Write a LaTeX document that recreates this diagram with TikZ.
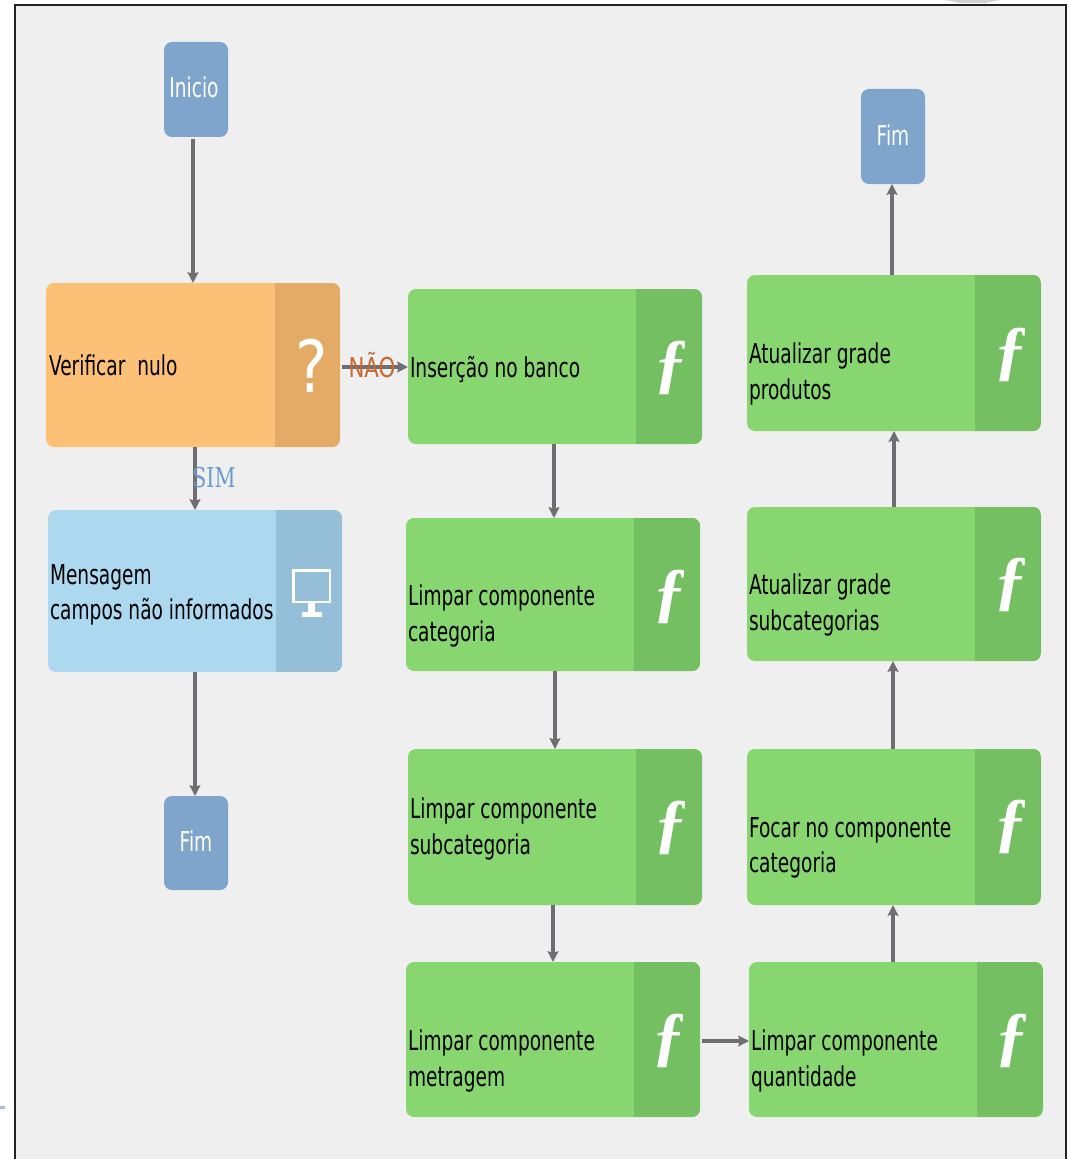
\documentclass[tikz,border=0pt]{standalone}
\usepackage{fontspec}
\setmainfont[FakeStretch=0.68]{DejaVu Sans}
\newfontfamily\midfont[FakeStretch=0.78]{DejaVu Sans}
\newfontfamily\simfont[FakeStretch=0.75]{DejaVu Serif}
\newfontfamily\qfont[FakeStretch=0.85]{DejaVu Sans}
\newfontfamily\symfont{Liberation Serif}
\usetikzlibrary{arrows.meta}
\definecolor{bgc}{HTML}{EFEFEF}
\definecolor{framec}{HTML}{222222}
\definecolor{greenc}{HTML}{88D66F}
\definecolor{greend}{HTML}{74BF62}
\definecolor{orangec}{HTML}{FDC077}
\definecolor{oranged}{HTML}{E3AB66}
\definecolor{bluec}{HTML}{ADD9F0}
\definecolor{blued}{HTML}{95BFD8}
\definecolor{termc}{HTML}{7FA5CC}
\definecolor{linec}{HTML}{6E6E72}
\definecolor{naoc}{HTML}{C8682C}
\definecolor{simc}{HTML}{6A9BD0}
\tikzset{
  x=0.75pt,y=-0.75pt,
  boxbase/.style={rectangle,rounded corners=6,inner sep=0,outer sep=0,anchor=north west},
  term/.style={boxbase,fill=termc},
  lbl/.style={anchor=west,inner sep=0,outer sep=0,font=\fontsize{20.5}{26.5}\selectfont,text=black,align=left},
  termlbl/.style={anchor=center,inner sep=0,font=\fontsize{20.5}{24}\selectfont,text=white},
  sym/.style={anchor=center,inner sep=0,text=white},
  conn/.style={draw=linec,line width=2.4pt,-{Stealth[length=8pt,width=8pt,inset=1pt]}},
}
% name, x1, y1, x2, y2, strip width, fill, strip fill
\newcommand{\flowbox}[8]{%
  \pgfmathsetlengthmacro{\bw}{(#4-#2)*0.75pt}%
  \pgfmathsetlengthmacro{\bh}{(#5-#3)*0.75pt}%
  \pgfmathsetlengthmacro{\sw}{#6*0.75pt}%
  \node[boxbase,fill=#7,minimum width=\bw,minimum height=\bh,
    path picture={\fill[#8,sharp corners] (path picture bounding box.north east) rectangle
      ([xshift=-\sw]path picture bounding box.south east);}] (#1) at (#2,#3) {};}
\newcommand{\termbox}[5]{%
  \pgfmathsetlengthmacro{\bw}{(#4-#2)*0.75pt}%
  \pgfmathsetlengthmacro{\bh}{(#5-#3)*0.75pt}%
  \node[term,minimum width=\bw,minimum height=\bh] (#1) at (#2,#3) {};}
\begin{document}
\begin{tikzpicture}
\useasboundingbox (0,0) rectangle (1067,1159);
\fill[white] (0,0) rectangle (1067,1159);
\fill[bgc] (15,5) rectangle (1066,1159);
\draw[framec,line width=2.2pt] (15,1159) -- (15,5) -- (1066,5) -- (1066,1159);
\fill[black!18] (945,0) -- (1000,0) -- (985,3) -- (960,3) -- cycle;
\fill[termc!70] (0,1105.5) rectangle (5,1108.5);

\termbox{inicio}{164}{42}{228}{137}
\termbox{fimb}{164}{796}{228}{890}
\termbox{fimt}{861}{89}{925}{184}
\flowbox{verif}{46}{283}{340}{447}{65}{orangec}{oranged}
\flowbox{msg}{48}{510}{342}{672}{66}{bluec}{blued}
\flowbox{ins}{408}{289}{702}{444}{66}{greenc}{greend}
\flowbox{lcat}{406}{518}{700}{671}{66}{greenc}{greend}
\flowbox{lsub}{408}{749}{702}{905}{66}{greenc}{greend}
\flowbox{lmet}{406}{962}{700}{1117}{66}{greenc}{greend}
\flowbox{lqtd}{749}{962}{1043}{1117}{66}{greenc}{greend}
\flowbox{foc}{747}{749}{1041}{905}{66}{greenc}{greend}
\flowbox{asub}{747}{507}{1041}{661}{66}{greenc}{greend}
\flowbox{apro}{747}{275}{1041}{431}{66}{greenc}{greend}

% connectors
\coordinate (c1) at (193,139);
\draw[conn] (c1) -- (c1 |- verif.north);
\coordinate (c2) at (195,447);
\draw[conn] (c2) -- (c2 |- msg.north);
\coordinate (c3) at (195,672);
\draw[conn] (c3) -- (c3 |- fimb.north);
\coordinate (c4) at (342,367);
\draw[conn] (c4) -- (c4 -| ins.west);
\coordinate (c5) at (554,444);
\draw[conn] (c5) -- (c5 |- lcat.north);
\coordinate (c6) at (555,671);
\draw[conn] (c6) -- (c6 |- lsub.north);
\coordinate (c7) at (553,905);
\draw[conn] (c7) -- (c7 |- lmet.north);
\coordinate (c8) at (702,1041);
\draw[conn] (c8) -- (c8 -| lqtd.west);
\coordinate (c9) at (893,962);
\draw[conn] (c9) -- (c9 |- foc.south);
\coordinate (c10) at (893,749);
\draw[conn] (c10) -- (c10 |- asub.south);
\coordinate (c11) at (894,507);
\draw[conn] (c11) -- (c11 |- apro.south);
\coordinate (c12) at (892,275);
\draw[conn] (c12) -- (c12 |- fimt.south);

% labels
\node[termlbl] (tinicio) at (194,87) {Inicio};
\node[termlbl] (tfimb) at (196,841) {Fim};
\node[termlbl] (tfimt) at (893,135) {Fim};
\node[lbl] (tverif) at (49,365) {Verificar\ \ nulo};
\node[lbl] (tmsg) at (50,595) {Mensagem\\campos não informados};
\node[lbl] (tins) at (410,370) {Inserção no banco};
\node[lbl] (tlcat) at (408,616) {Limpar componente\\categoria};
\node[lbl] (tlsub) at (410,829) {Limpar componente\\subcategoria};
\node[lbl] (tlmet) at (408,1061) {Limpar componente\\metragem};
\node[lbl] (tlqtd) at (751,1061) {Limpar componente\\quantidade};
\node[lbl] (tfoc) at (749,848) {Focar no componente\\categoria};
\node[lbl] (tasub) at (749,605) {Atualizar grade\\subcategorias};
\node[lbl] (tapro) at (749,374) {Atualizar grade\\produtos};
\node[termlbl,font=\midfont\fontsize{20.5}{24}\selectfont,text=naoc] (tnao) at (372,365) {NÃO};
\node[termlbl,font=\simfont\fontsize{20.5}{24}\selectfont,text=simc] (tsim) at (214,478) {SIM};

% symbols
\node[sym,font=\qfont\fontsize{54}{54}\selectfont] (qm) at (312,366) {?};
\foreach \n/\sx/\sy in {f1/671/368,f2/670/597,f3/671/828,f4/669/1041,f5/1012/1041,f6/1011/355,f7/1011/585,f8/1011/827}{
  \node[sym,font=\symfont\bfseries\itshape\fontsize{50}{50}\selectfont] (\n) at (\sx,\sy) {ƒ};
}
% monitor icon
\draw[white,line width=1.7pt] (293.5,570.5) rectangle (330,602);
\fill[white] (308,602) rectangle (315,612);
\fill[white] (302,612) rectangle (322,617);
\end{tikzpicture}
\end{document}
